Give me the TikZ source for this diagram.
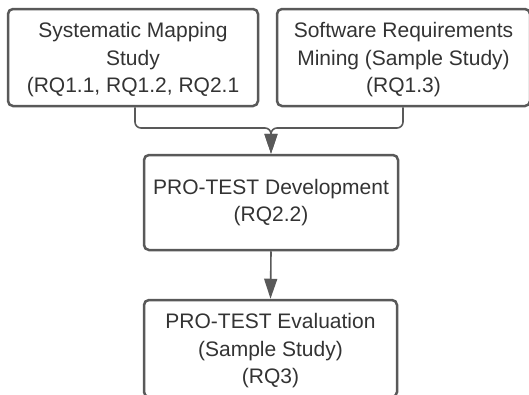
\documentclass[tikz,border=0pt]{standalone}
\usepackage{fontspec}
\setmainfont{Liberation Sans}
\usetikzlibrary{arrows.meta}
\definecolor{linegray}{HTML}{595959}
\definecolor{textgray}{HTML}{333333}
\begin{document}
\begin{tikzpicture}[x=1pt,y=-1pt,
  box/.style={draw=linegray, line width=2.5pt, rounded corners=5pt, inner sep=0pt,
    align=center, text=textgray, font=\fontsize{21}{27.5}\selectfont, anchor=center},
  conn/.style={draw=linegray, line width=1.6pt, rounded corners=6pt},
  arr/.style={conn, -{Triangle[length=20pt,width=13pt]}}]
\useasboundingbox (0,0) rectangle (529,394);
\clip (0,0) rectangle (529,394);
\node[box, minimum width=250pt, minimum height=97pt, text depth=0pt] (b1) at (133,57.5)
  {Systematic Mapping\\Study\\(RQ1.1, RQ1.2, RQ2.1};
\node[box, minimum width=253pt, minimum height=97pt, text depth=0pt] (b2) at (403.5,57.5)
  {Software Requirements\\Mining (Sample Study)\\(RQ1.3)};
\node[box, minimum width=254pt, minimum height=95pt] (b3) at (271,202.5)
  {PRO-TEST Development\\(RQ2.2)};
\node[box, minimum width=253pt, minimum height=97pt, text depth=0pt] (b4) at (270.5,348.5)
  {PRO-TEST Evaluation\\(Sample Study)\\(RQ3)};
\coordinate (j) at (271,128);
\draw[arr] (b1.south -| 135,0) |- (j) -- (b3.north);
\draw[arr] (b2.south -| 403,0) |- (j) -- (b3.north);
\draw[arr] (b3.south) -- (b4.north);
\end{tikzpicture}
\end{document}
